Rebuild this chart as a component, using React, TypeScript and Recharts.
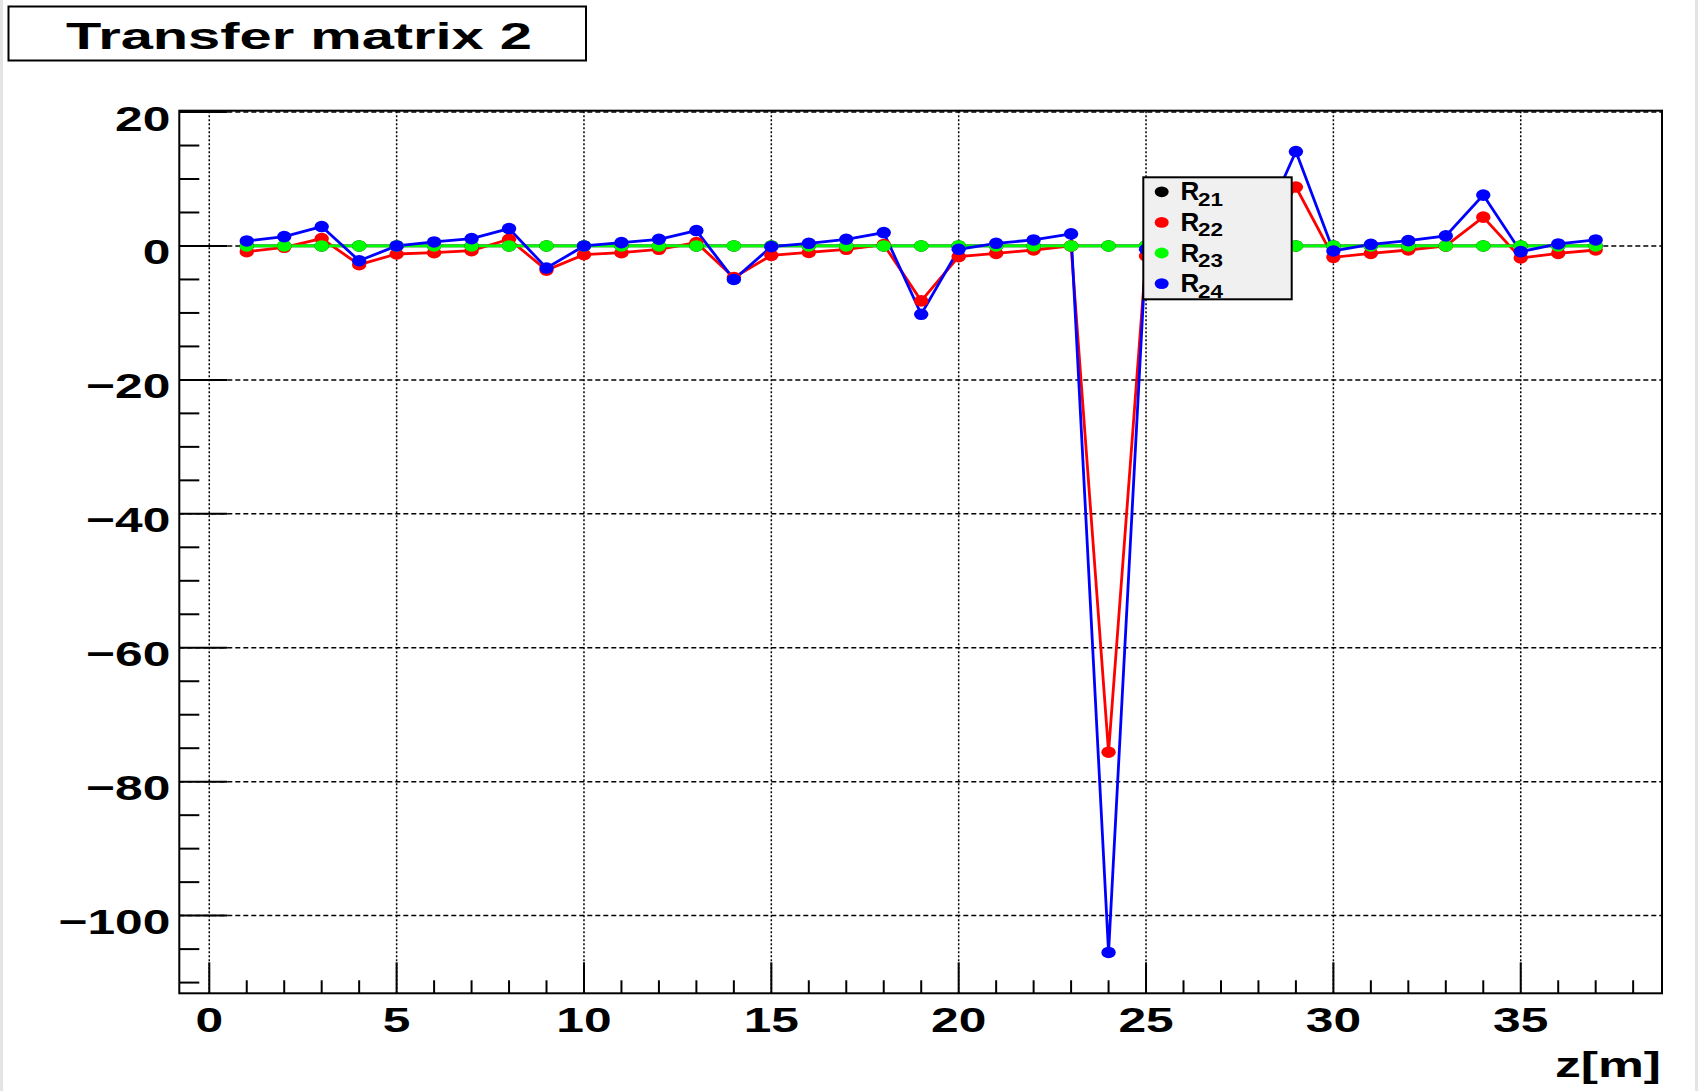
import React from "react";
import { Line, LineChart, ReferenceLine, XAxis, YAxis } from "recharts";

// Transfer matrix 2 - second row of the transfer matrix along the beamline,
// drawn ROOT style (framed plot, dotted grid, stretched bold Helvetica).

const zPositions = [
  1, 2, 3, 4, 5, 6, 7, 8, 9, 10, 11, 12, 13, 14, 15, 16, 17, 18, 19, 20, 21,
  22, 23, 24, 25, 26, 27, 28, 29, 30, 31, 32, 33, 34, 35, 36, 37,
];

const r21 = [
  0, 0, 0, 0, 0, 0, 0, 0, 0, 0, 0, 0, 0, 0, 0, 0, 0, 0, 0, 0, 0, 0, 0, 0, 0, 0,
  0, 0, 0, 0, 0, 0, 0, 0, 0, 0, 0,
];

const r22 = [
  -0.85, -0.2, 1.1, -2.8, -1.2, -1.0, -0.7, 1.0, -3.6, -1.3, -1.0, -0.5, 0.5,
  -4.7, -1.4, -0.95, -0.5, 0.2, -8.2, -1.6, -1.1, -0.6, 0.0, -75.6, -1.5, -1.0,
  -0.6, 0.3, 8.8, -1.7, -1.1, -0.6, 0.0, 4.3, -1.8, -1.1, -0.6,
];

const r23 = [
  0, 0, 0, 0, 0, 0, 0, 0, 0, 0, 0, 0, 0, 0, 0, 0, 0, 0, 0, 0, 0, 0, 0, 0, 0, 0,
  0, 0, 0, 0, 0, 0, 0, 0, 0, 0, 0,
];

const r24 = [
  0.75, 1.4, 2.9, -2.2, 0.0, 0.6, 1.1, 2.6, -3.3, 0.0, 0.5, 1.0, 2.3, -5.0,
  -0.1, 0.4, 1.0, 2.0, -10.2, -0.5, 0.4, 0.9, 1.8, -105.5, -0.5, 0.3, 0.8, 1.6,
  14.1, -0.75, 0.25, 0.8, 1.5, 7.6, -0.85, 0.3, 0.9,
];

const xTicks = [
  0, 1, 2, 3, 4, 5, 6, 7, 8, 9, 10, 11, 12, 13, 14, 15, 16, 17, 18, 19, 20,
  21, 22, 23, 24, 25, 26, 27, 28, 29, 30, 31, 32, 33, 34, 35, 36, 37, 38,
];
const yTicks = [
  -110, -105, -100, -95, -90, -85, -80, -75, -70, -65, -60, -55, -50, -45,
  -40, -35, -30, -25, -20, -15, -10, -5, 0, 5, 10, 15, 20,
];
const xGrid = [0, 5, 10, 15, 20, 25, 30, 35];
const yGrid = [-100, -80, -60, -40, -20, 0, 20];

const series = [
  { key: "r21", sub: "21", color: "#000000" },
  { key: "r22", sub: "22", color: "#ff0000" },
  { key: "r23", sub: "23", color: "#00ff00" },
  { key: "r24", sub: "24", color: "#0000ff" },
];

const rows = zPositions.map((z, i) => ({
  z,
  r21: r21[i],
  r22: r22[i],
  r23: r23[i],
  r24: r24[i],
}));

const FONT = "'Liberation Sans', Arial, Helvetica, sans-serif";
const W = 1698;
const H = 1091;
const PLOT = { left: 179.3, top: 110.7, right: 1662, bottom: 993.3 };
const AXIS_W = 60;
const AXIS_H = 30;

const fmt = (v: number) => (v < 0 ? `\u2212${Math.abs(v)}` : `${v}`);

function XTick(props: any) {
  const { x, y, payload } = props;
  const v = payload.value as number;
  const major = v % 5 === 0;
  return (
    <g>
      <line x1={x} x2={x} y1={y} y2={y - (major ? 31 : 13)} stroke="#000" strokeWidth={2} />
      {major && (
        <text
          transform={`translate(${x},${y + 39}) scale(1.42,1)`}
          textAnchor="middle"
          fontSize={35}
          fontWeight="bold"
          fontFamily={FONT}
          fill="#000"
        >
          {fmt(v)}
        </text>
      )}
    </g>
  );
}

function YTick(props: any) {
  const { x, y, payload } = props;
  const v = payload.value as number;
  const major = v % 20 === 0;
  return (
    <g>
      <line x1={x} x2={x + (major ? 48 : 20)} y1={y} y2={y} stroke="#000" strokeWidth={2} />
      {major && (
        <text
          transform={`translate(${x - 9},${y + 18.5}) scale(1.42,1)`}
          textAnchor="end"
          fontSize={35}
          fontWeight="bold"
          fontFamily={FONT}
          fill="#000"
        >
          {fmt(v)}
        </text>
      )}
    </g>
  );
}

function makeDot(color: string) {
  return (p: any) => (
    <ellipse key={`d-${p.index}`} cx={p.cx} cy={p.cy} rx={7.2} ry={5.8} fill={color} />
  );
}

export default function App() {
  return (
    <div style={{ position: "relative", width: W, height: H, background: "#fff" }}>
      <style>{"body{margin:0}"}</style>
      <LineChart
        width={W}
        height={H}
        data={rows}
        margin={{
          top: PLOT.top,
          left: PLOT.left - AXIS_W,
          right: W - PLOT.right,
          bottom: H - PLOT.bottom - AXIS_H,
        }}
      >
        <XAxis
          dataKey="z"
          type="number"
          domain={[-0.8, 38.77]}
          ticks={xTicks}
          interval={0}
          height={AXIS_H}
          tickSize={0}
          tickMargin={0}
          axisLine={false}
          tickLine={false}
          tick={(p: any) => <XTick {...p} />}
        />
        <YAxis
          type="number"
          domain={[-111.6, 20.2]}
          ticks={yTicks}
          interval={0}
          width={AXIS_W}
          tickSize={0}
          tickMargin={0}
          axisLine={false}
          tickLine={false}
          tick={(p: any) => <YTick {...p} />}
        />
        {yGrid.map((v) => (
          <ReferenceLine key={`gy${v}`} y={v} stroke="#000" strokeWidth={1.5} strokeDasharray="5 3" />
        ))}
        {xGrid.map((v) => (
          <ReferenceLine key={`gx${v}`} x={v} stroke="#000" strokeWidth={1.5} strokeDasharray="2 2" />
        ))}
        {series.map((s) => (
          <Line
            key={s.key}
            dataKey={s.key}
            type="linear"
            stroke={s.color}
            strokeWidth={2.8}
            dot={makeDot(s.color)}
            activeDot={false}
            isAnimationActive={false}
          />
        ))}
      </LineChart>

      <svg
        width={W}
        height={H}
        style={{ position: "absolute", left: 0, top: 0, pointerEvents: "none" }}
      >
        {/* canvas edges */}
        <line x1={1.5} x2={1.5} y1={0} y2={H} stroke="#e4e4e4" strokeWidth={3} />
        <line x1={W - 1.5} x2={W - 1.5} y1={0} y2={H} stroke="#e4e4e4" strokeWidth={3} />

        {/* plot frame */}
        <rect
          x={PLOT.left}
          y={PLOT.top}
          width={PLOT.right - PLOT.left}
          height={PLOT.bottom - PLOT.top}
          fill="none"
          stroke="#000"
          strokeWidth={2}
        />

        {/* title box */}
        <rect x={8.5} y={6.5} width={577.5} height={54} fill="#fff" stroke="#000" strokeWidth={2} />
        <text
          x={66}
          y={49.3}
          fontSize={36}
          fontWeight="bold"
          fontFamily={FONT}
          textLength={466}
          lengthAdjust="spacingAndGlyphs"
        >
          Transfer matrix 2
        </text>

        {/* x axis title */}
        <text
          x={1555}
          y={1077}
          fontSize={35}
          fontWeight="bold"
          fontFamily={FONT}
          textLength={106}
          lengthAdjust="spacingAndGlyphs"
        >
          z[m]
        </text>

        {/* legend */}
        <rect x={1143.3} y={177.3} width={148.4} height={122} fill="#f0f0f0" stroke="#000" strokeWidth={2} />
        {series.map((s, i) => {
          const cy = 191.8 + i * 30.6;
          return (
            <g key={`lg-${s.key}`}>
              <ellipse cx={1161.7} cy={cy} rx={7} ry={5.4} fill={s.color} />
              <text x={1180.5} y={cy + 8.5} fontSize={26} fontWeight="bold" fontFamily={FONT}>
                R
              </text>
              <text
                x={1198}
                y={cy + 14}
                fontSize={19}
                fontWeight="bold"
                fontFamily={FONT}
                textLength={25}
                lengthAdjust="spacingAndGlyphs"
              >
                {s.sub}
              </text>
            </g>
          );
        })}
      </svg>
    </div>
  );
}
